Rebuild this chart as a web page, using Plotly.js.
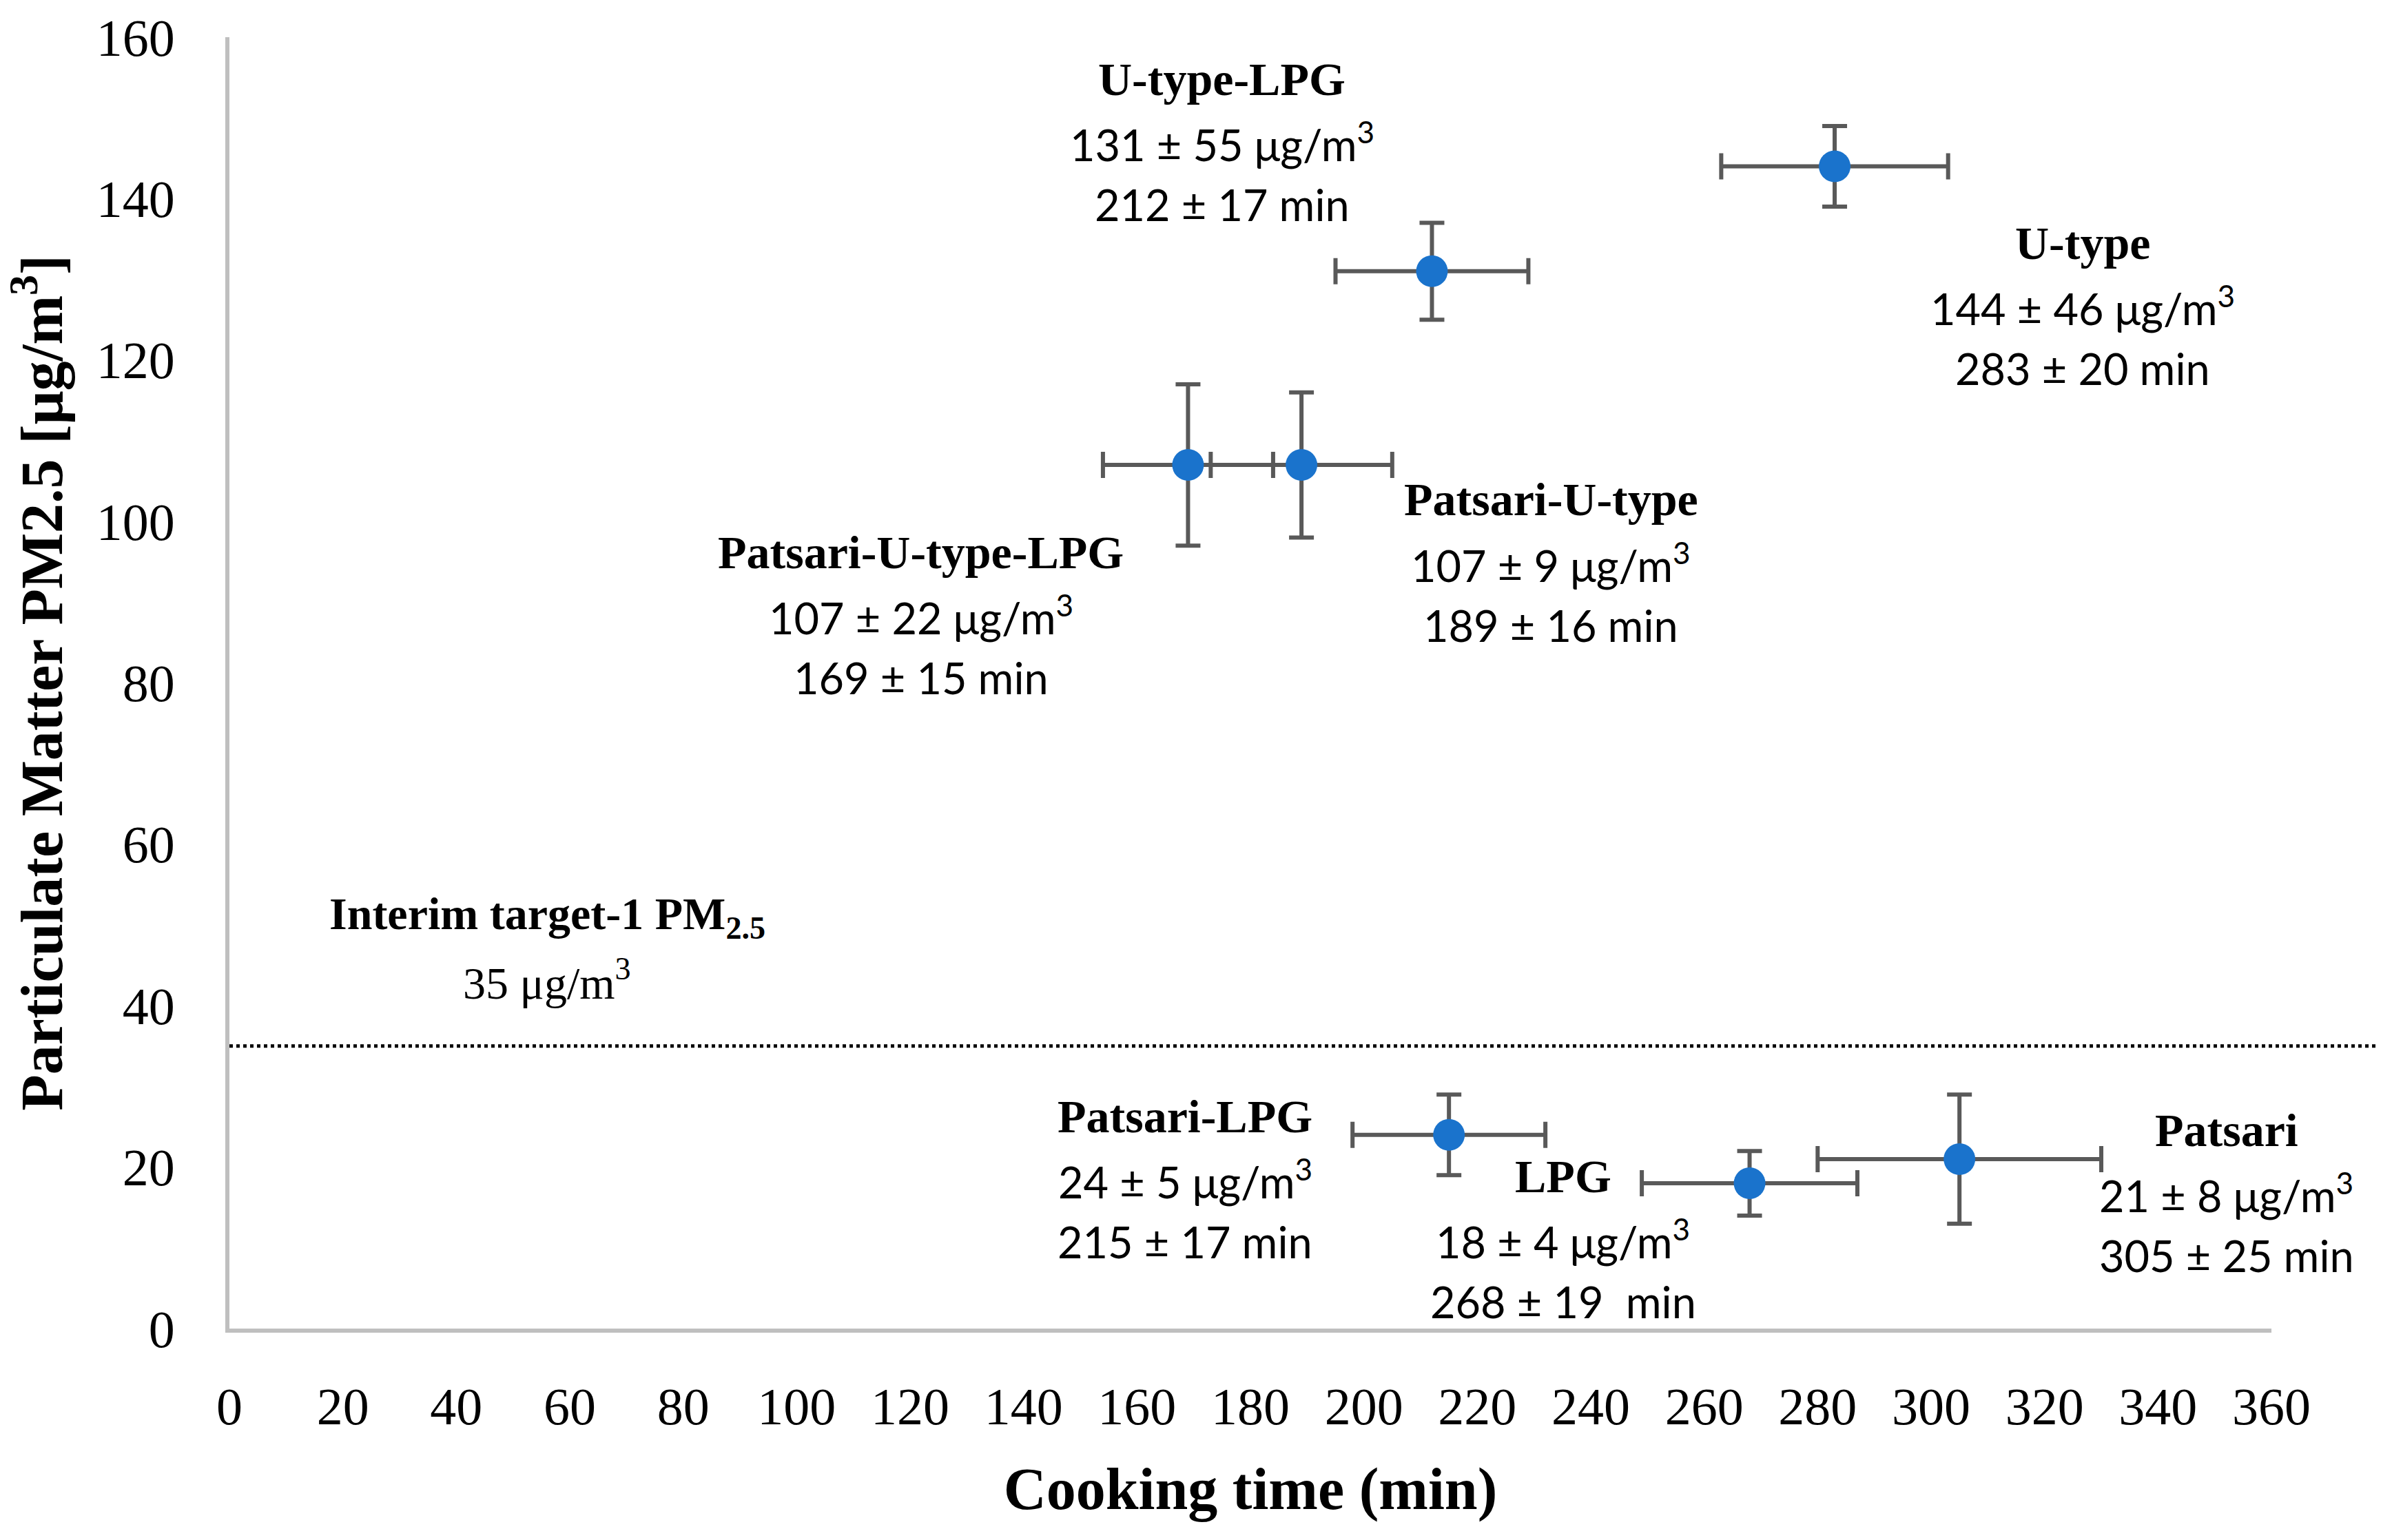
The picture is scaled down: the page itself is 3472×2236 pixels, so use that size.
<!DOCTYPE html>
<html>
<head>
<meta charset="utf-8">
<script src="https://cdn.plot.ly/plotly-3.0.1.min.js"></script>
<style>
  html, body { margin: 0; padding: 0; background: #fff; }
  #chart { width: 3472px; height: 2236px; }
</style>
</head>
<body>
<div id="chart"></div>
<script>
// stove groups and their measured means / SDs (from the labels)
const groups     = ['U-type-LPG', 'U-type', 'Patsari-U-type', 'Patsari-U-type-LPG', 'Patsari-LPG', 'LPG', 'Patsari'];
const cookTime   = [212, 283, 189, 169, 215, 268, 305];
const cookTimeSd = [17, 20, 16, 15, 17, 19, 25];
const pm25       = [131, 144, 107, 107, 24, 18, 21];
const pm25Sd     = [55, 46, 9, 22, 5, 4, 8];
// vertical bars as drawn in the figure (not the same as the SD in the labels)
const pm25Bar    = [6, 5, 9, 10, 5, 4, 8];

// WHO interim target-1
const targetValue = 35;

// where each text block sits (first line), data units
const labelX = [175.0, 326.7, 233.0, 121.9, 168.5, 235.1, 352.1];
const labelY = [154.8, 134.5, 102.7, 96.2, 26.3, 18.9, 24.6];
const targetLabelX = 56.0;
const targetLabelY = 51.0;

const xTicks = [0,20,40,60,80,100,120,140,160,180,200,220,240,260,280,300,320,340,360];
const yTicks = [0,20,40,60,80,100,120,140,160];

const serif = 'Liberation Serif, Times New Roman, serif';
const sans = 'Lato, Carlito, Calibri, sans-serif';
const lineStep = 91; // px between text lines

let trace = {
  x: cookTime,
  y: pm25,
  type: 'scatter',
  mode: 'markers',
  marker: {color: '#1A73CC', size: 46},
  error_x: {type: 'data', array: cookTimeSd, visible: true, color: '#595959', thickness: 6, width: 19},
  error_y: {type: 'data', array: pm25Bar, visible: true, color: '#595959', thickness: 6, width: 18},
  hoverinfo: 'x+y',
  showlegend: false
};

let annotations = [];
for (let i = 0; i < groups.length; i++) {
  let lines = [
    {text: '<b>' + groups[i] + '</b>', font: {family: serif, size: 68, color: '#000'}},
    {text: pm25[i] + ' ± ' + pm25Sd[i] + ' μg/m<sup>3</sup>', font: {family: sans, size: 63, color: '#000'}},
    {text: cookTime[i] + ' ± ' + cookTimeSd[i] + (groups[i] == 'LPG' ? '  min' : ' min'), font: {family: sans, size: 63, color: '#000'}}
  ];
  lines.forEach((ln, k) => {
    annotations.push({
      x: labelX[i], y: labelY[i], xref: 'x', yref: 'y',
      yshift: -lineStep * k,
      xanchor: 'center', yanchor: 'middle',
      text: ln.text, font: ln.font, showarrow: false
    });
  });
}
annotations.push({
  x: targetLabelX, y: targetLabelY, xref: 'x', yref: 'y',
  xanchor: 'center', yanchor: 'middle', showarrow: false,
  text: '<b>Interim target-1 PM<sub>2.5</sub></b>',
  font: {family: serif, size: 66, color: '#000'}
});
annotations.push({
  x: targetLabelX, y: targetLabelY, xref: 'x', yref: 'y',
  yshift: -lineStep,
  xanchor: 'center', yanchor: 'middle', showarrow: false,
  text: targetValue + ' μg/m<sup>3</sup>',
  font: {family: serif, size: 66, color: '#000'}
});

let layout = {
  width: 3472,
  height: 2236,
  paper_bgcolor: '#fff',
  plot_bgcolor: '#fff',
  margin: {l: 333, r: 175, t: 54, b: 307, pad: 0},
  xaxis: {
    range: [0, 360],
    tickvals: xTicks,
    showgrid: false, zeroline: false,
    showline: true, linecolor: '#BFBFBF', linewidth: 6,
    ticks: '',
    ticklabelstandoff: 42,
    tickfont: {family: serif, size: 76, color: '#000'},
    title: {text: '<b>Cooking time (min)</b>', font: {family: serif, size: 86, color: '#000'}, standoff: 50},
    automargin: false
  },
  yaxis: {
    range: [0, 160],
    tickvals: yTicks,
    showgrid: false, zeroline: false,
    showline: true, linecolor: '#BFBFBF', linewidth: 6,
    ticks: '',
    ticklabelstandoff: 58,
    tickfont: {family: serif, size: 76, color: '#000'},
    title: {text: '<b>Particulate Matter PM2.5 [μg/m<sup>3</sup>]</b>', font: {family: serif, size: 86, color: '#000'}, standoff: 24},
    automargin: false
  },
  shapes: [{
    type: 'line', xref: 'paper', yref: 'y',
    x0: 0, x1: 1.052, y0: targetValue, y1: targetValue,
    line: {color: '#000', width: 5, dash: 'dot'}
  }],
  annotations: annotations
};

Plotly.newPlot('chart', [trace], layout, {displayModeBar: false, staticPlot: true});
</script>
</body>
</html>
